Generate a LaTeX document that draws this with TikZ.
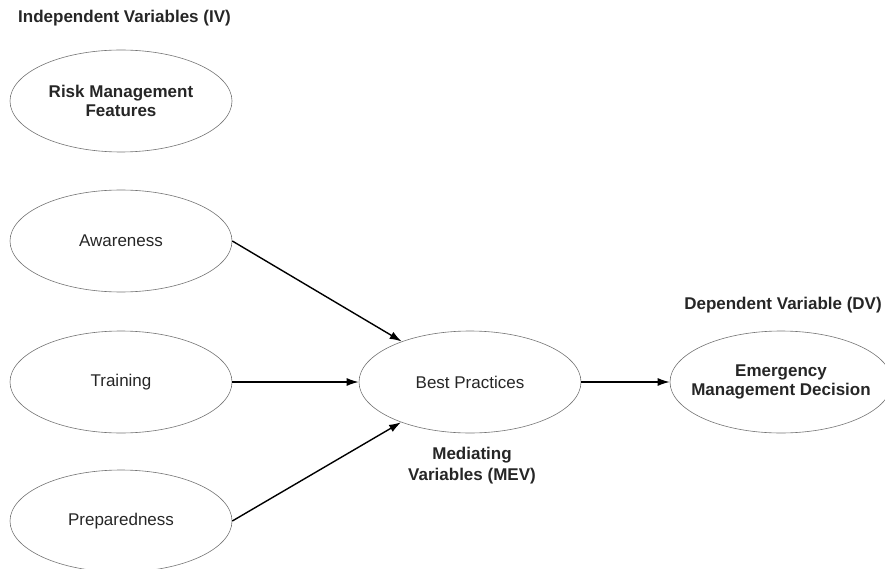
\documentclass[tikz,border=0pt]{standalone}
\usepackage{fontspec}
\setmainfont{Liberation Sans}
\usetikzlibrary{shapes.geometric,arrows.meta}
\begin{document}
\begin{tikzpicture}[x=1pt,y=-1pt,
  oval/.style={ellipse,draw=black!55,line width=0.6pt,minimum width=222pt,minimum height=102pt,inner sep=0pt,font=\fontsize{17}{19}\selectfont,text=black!85,align=center},
  boldtxt/.style={font=\fontsize{17}{19}\selectfont\bfseries,text=black!85,align=center,inner sep=0pt},
  lbl/.style={font=\fontsize{17}{21}\selectfont\bfseries,text=black!85,align=center,inner sep=0pt},
  conn/.style={line width=1.4pt,-{Latex[length=12pt,width=8pt]}}]
\useasboundingbox (0,0) rectangle (885,569);
\node[lbl,anchor=west] (iv) at (18,18) {Independent Variables (IV)};
\node[oval] (rm) at (121,101) {};
\node[boldtxt] (rmt) at (rm.center) {Risk Management\\Features};
\node[oval] (aw) at (121,241) {Awareness};
\node[oval] (tr) at (121,382) {Training};
\node[oval] (pr) at (121,521) {Preparedness};
\node[oval] (bp) at (470,382) {Best Practices};
\node[oval] (em) at (781,382) {};
\node[boldtxt] (emt) at (em.center) {Emergency\\Management Decision};
\node[lbl] (dv) at (783,305) {Dependent Variable (DV)};
\node[lbl] (mev) at (472,466) {Mediating\\Variables (MEV)};
\draw[conn] (aw.east) -- (bp);
\draw[conn] (tr.east) -- (bp.west);
\draw[conn] (pr.east) -- (bp);
\draw[conn] (bp.east) -- (em.west);
\end{tikzpicture}
\end{document}
